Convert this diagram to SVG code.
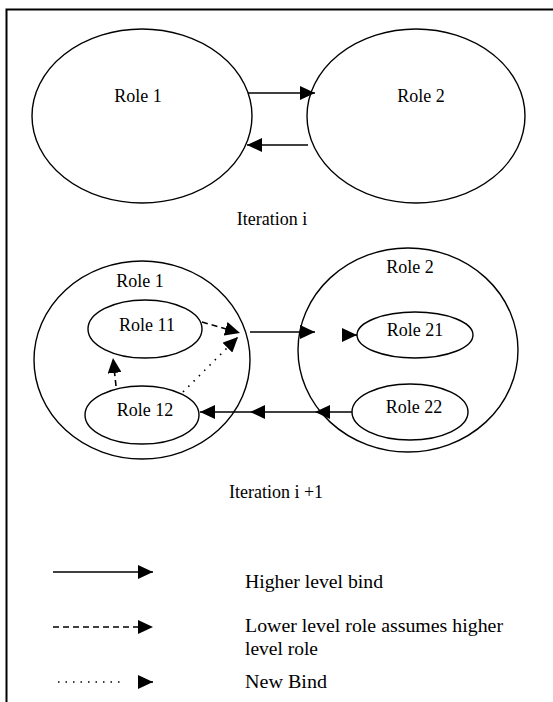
<svg xmlns="http://www.w3.org/2000/svg" width="553" height="702" viewBox="0 0 553 702">
<style>
.n{fill:none;stroke:#000;stroke-width:1.4}
.t{font-family:"Liberation Serif","Times New Roman",serif;font-size:18px;fill:#000}
.c{stroke:#000;stroke-width:1.6;fill:none}
.dash{stroke-dasharray:6,4}
.dot{stroke-dasharray:1.5,6}
</style>
<defs>
<marker id="ah" markerUnits="userSpaceOnUse" markerWidth="16" markerHeight="14" refX="15" refY="7" orient="auto">
<path d="M0,0 L15,7 L0,14 Z" fill="#000"/>
</marker>
</defs>
<rect width="553" height="702" fill="#fff"/>
<path d="M6.5,702 V9.5 H553" fill="none" stroke="#000" stroke-width="2"/>

<g id="top-role1"><ellipse class="n" cx="142" cy="116" rx="110" ry="87"/><text class="t" x="138" y="102" text-anchor="middle">Role 1</text></g>
<g id="top-role2"><ellipse class="n" cx="416" cy="116" rx="109" ry="87"/><text class="t" x="421" y="102" text-anchor="middle">Role 2</text></g>
<text class="t" x="272" y="225" text-anchor="middle">Iteration i</text>

<g id="low-role1"><ellipse class="n" cx="142" cy="360" rx="108" ry="99"/><text class="t" x="140" y="287" text-anchor="middle">Role 1</text></g>
<g id="low-role2"><ellipse class="n" cx="408" cy="350" rx="110" ry="102"/><text class="t" x="410" y="273" text-anchor="middle">Role 2</text></g>
<g id="role11"><ellipse class="n" cx="145" cy="329" rx="57" ry="29"/><text class="t" x="147" y="331" text-anchor="middle">Role 11</text></g>
<g id="role12"><ellipse class="n" cx="142" cy="415" rx="57" ry="29"/><text class="t" x="145" y="416" text-anchor="middle">Role 12</text></g>
<g id="role21"><ellipse class="n" cx="415" cy="335" rx="58" ry="23"/><text class="t" x="415" y="336" text-anchor="middle">Role 21</text></g>
<g id="role22"><ellipse class="n" cx="410" cy="412" rx="58" ry="28"/><text class="t" x="414" y="413" text-anchor="middle">Role 22</text></g>
<text class="t" x="276" y="498" text-anchor="middle">Iteration i +1</text>

<g id="connectors">
<line class="c" x1="248" y1="93" x2="315" y2="93" marker-end="url(#ah)"/>
<line class="c" x1="308" y1="145" x2="247" y2="145" marker-end="url(#ah)"/>
<line class="c dash" x1="202" y1="322" x2="240" y2="333" marker-end="url(#ah)"/>
<line class="c dot" x1="183" y1="392" x2="238" y2="337" marker-end="url(#ah)"/>
<line class="c" x1="250" y1="332" x2="315" y2="332" marker-end="url(#ah)"/>
<line class="c" x1="342" y1="335" x2="357" y2="335" marker-end="url(#ah)"/>
<line class="c dash" x1="116" y1="386" x2="113" y2="358" marker-end="url(#ah)"/>
<line class="c" x1="352" y1="412" x2="315" y2="412" marker-end="url(#ah)"/>
<line class="c" x1="315" y1="412" x2="250" y2="412" marker-end="url(#ah)"/>
<line class="c" x1="250" y1="412" x2="200" y2="412" marker-end="url(#ah)"/>
</g>

<g id="legend">
<line class="c" x1="53" y1="572" x2="153" y2="572" marker-end="url(#ah)"/>
<line class="c dash" x1="53" y1="627" x2="153" y2="627" marker-end="url(#ah)"/>
<line class="c dot" x1="58" y1="682" x2="124" y2="682"/>
<line class="c" x1="138" y1="682" x2="153" y2="682" marker-end="url(#ah)"/>
<text class="t" x="245" y="588" textLength="138" lengthAdjust="spacingAndGlyphs">Higher level bind</text>
<text class="t" x="245" y="632" textLength="258" lengthAdjust="spacingAndGlyphs">Lower level role assumes higher</text>
<text class="t" x="245" y="655" textLength="73" lengthAdjust="spacingAndGlyphs">level role</text>
<text class="t" x="245" y="688" textLength="82" lengthAdjust="spacingAndGlyphs">New Bind</text>
</g>
</svg>
